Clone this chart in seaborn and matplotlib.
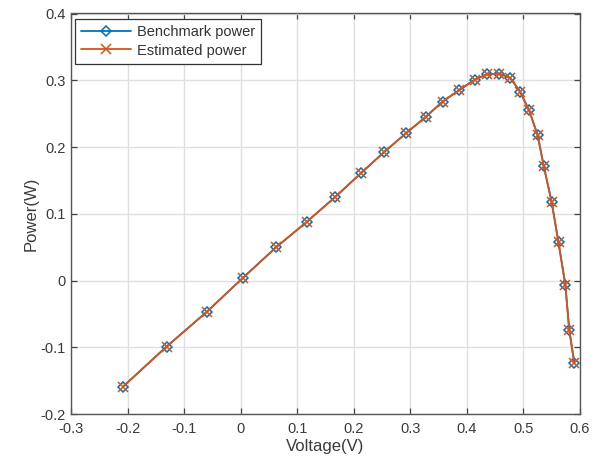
import matplotlib
matplotlib.use("Agg")
import matplotlib.pyplot as plt
import seaborn as sns
import pandas as pd

# Sampled voltage points and the corresponding power values
voltage = [-0.208, -0.131, -0.060, 0.004, 0.063, 0.117, 0.167, 0.213, 0.253,
           0.293, 0.327, 0.357, 0.386, 0.414, 0.436, 0.457, 0.477, 0.494,
           0.510, 0.525, 0.536, 0.550, 0.562, 0.574, 0.581, 0.590]
benchmark_power = [-0.159, -0.099, -0.047, 0.004, 0.050, 0.088, 0.125, 0.161,
                   0.192, 0.221, 0.245, 0.268, 0.285, 0.301, 0.309, 0.310,
                   0.303, 0.283, 0.255, 0.218, 0.171, 0.117, 0.057, -0.006,
                   -0.074, -0.124]
estimated_power = [-0.159, -0.099, -0.047, 0.004, 0.050, 0.088, 0.125, 0.161,
                   0.192, 0.221, 0.245, 0.268, 0.285, 0.301, 0.309, 0.310,
                   0.303, 0.283, 0.255, 0.218, 0.171, 0.117, 0.057, -0.006,
                   -0.074, -0.124]

x_ticks = [-0.3, -0.2, -0.1, 0, 0.1, 0.2, 0.3, 0.4, 0.5, 0.6]
y_ticks = [-0.2, -0.1, 0, 0.1, 0.2, 0.3, 0.4]
x_tick_labels = ["-0.3", "-0.2", "-0.1", "0", "0.1", "0.2", "0.3", "0.4", "0.5", "0.6"]
y_tick_labels = ["-0.2", "-0.1", "0", "0.1", "0.2", "0.3", "0.4"]

sns.set_theme(style="whitegrid")
plt.rcParams["font.family"] = ["Liberation Sans", "DejaVu Sans"]

df = pd.DataFrame({"V": voltage, "bench": benchmark_power, "est": estimated_power})

fig = plt.figure(figsize=(6.01, 4.65), dpi=100)
ax = fig.add_axes([71 / 601, 51 / 465, 509 / 601, 400.5 / 465])

blue = "#0072BD"
orange = "#D95319"
sns.lineplot(data=df, x="V", y="bench", ax=ax, color=blue, lw=1.3,
             marker="D", markersize=5.0, markerfacecolor="none",
             markeredgecolor=blue, markeredgewidth=1.1,
             label="Benchmark power", zorder=3)
sns.lineplot(data=df, x="V", y="est", ax=ax, color=orange, lw=1.3,
             marker="x", markersize=6.5, markeredgecolor=orange,
             markeredgewidth=1.1, label="Estimated power", zorder=4)

ax.set_xlim(-0.3, 0.6)
ax.set_ylim(-0.2, 0.4)
ax.set_xticks(x_ticks)
ax.set_yticks(y_ticks)
ax.set_xticklabels(x_tick_labels)
ax.set_yticklabels(y_tick_labels)

ax.grid(True, color="#e0e0e0", lw=1.0)
ax.set_axisbelow(True)
for s in ax.spines.values():
    s.set_color("#555555")
    s.set_linewidth(1.0)
    s.set_visible(True)

ax.tick_params(axis="both", which="both", direction="in", length=4, width=0.9,
               color="#444444", labelsize=10.5, labelcolor="#3a3a3a",
               top=True, right=True, bottom=True, left=True)
ax.tick_params(axis="x", pad=6)
ax.tick_params(axis="y", pad=4)

ax.set_xlabel("Voltage(V)", fontsize=12, color="#3a3a3a", labelpad=2)
ax.set_ylabel("Power(W)", fontsize=12, color="#3a3a3a", labelpad=1)

leg = ax.legend(loc="upper left", fontsize=10.5, frameon=True, fancybox=False,
                edgecolor="#333333", framealpha=1,
                bbox_to_anchor=(4 / 509, 1 - 5.5 / 400.5), borderaxespad=0,
                handlelength=3.4, handletextpad=0.4, borderpad=0.42,
                labelspacing=0.3)
leg.get_frame().set_linewidth(0.9)
for t in leg.get_texts():
    t.set_color("#333333")

fig.savefig("out.png", dpi=100)
